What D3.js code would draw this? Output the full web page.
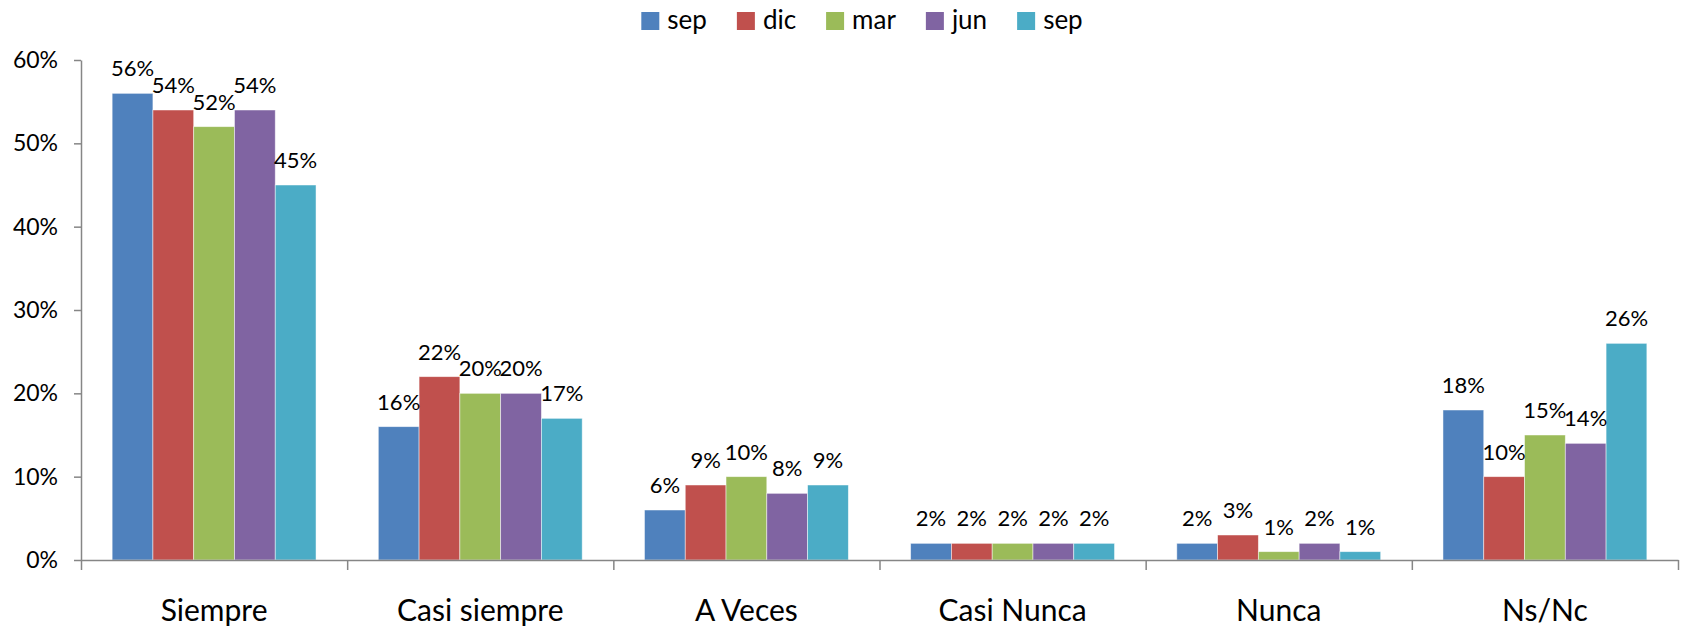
<!DOCTYPE html>
<html>
<head>
<meta charset="utf-8">
<script src="https://cdn.jsdelivr.net/npm/d3@7"></script>
<style>
  body { margin: 0; background: #fff; }
  svg { display: block; font-family: Lato, "Open Sans", sans-serif; }
</style>
</head>
<body>
<div id="chart"></div>
<script>
// data
var categories = ["Siempre", "Casi siempre", "A Veces", "Casi Nunca", "Nunca", "Ns/Nc"];
var seriesNames = ["sep", "dic", "mar", "jun", "sep"];
var sep1 = [0.56, 0.16, 0.06, 0.02, 0.02, 0.18];
var dic  = [0.54, 0.22, 0.09, 0.02, 0.03, 0.10];
var mar  = [0.52, 0.20, 0.10, 0.02, 0.01, 0.15];
var jun  = [0.54, 0.20, 0.08, 0.02, 0.02, 0.14];
var sep2 = [0.45, 0.17, 0.09, 0.02, 0.01, 0.26];
var yTicks = [0, 0.1, 0.2, 0.3, 0.4, 0.5, 0.6];
var colors = ["#4F81BD", "#C0504D", "#9BBB59", "#8064A2", "#4BACC6"];

var seriesValues = [sep1, dic, mar, jun, sep2];

var W = 1681, H = 628;
var plotLeft = 81, plotRight = 1678, plotTop = 60, plotBottom = 560;

var svg = d3.select("#chart")
  .append("svg")
  .attr("width", W)
  .attr("height", H);

// scales
var x0 = d3.scaleBand()
  .domain(categories)
  .range([plotLeft, plotRight])
  .padding(0);

var gap = x0.bandwidth() * 0.117;
var x1 = d3.scaleBand()
  .domain(d3.range(seriesNames.length))
  .range([gap, x0.bandwidth() - gap]);

var y = d3.scaleLinear()
  .domain([0, 0.6])
  .range([plotBottom, plotTop]);

// bars
var rows = [];
categories.forEach(function(c, i) {
  seriesValues.forEach(function(vals, s) {
    rows.push({cat: c, s: s, v: vals[i]});
  });
});

svg.selectAll(".bar")
  .data(rows)
  .enter()
  .append("rect")
  .attr("class", "bar")
  .attr("x", d => x0(d.cat) + x1(d.s))
  .attr("y", d => y(d.v))
  .attr("width", x1.bandwidth())
  .attr("height", d => y(0) - y(d.v))
  .attr("fill", d => colors[d.s])
  .attr("stroke", "#fff")
  .attr("stroke-opacity", 0.6)
  .attr("stroke-width", 0.8);

// value labels
svg.selectAll(".lbl")
  .data(rows)
  .enter()
  .append("text")
  .attr("class", "lbl")
  .attr("x", d => x0(d.cat) + x1(d.s) + x1.bandwidth() / 2)
  .attr("y", d => y(d.v) - 17)
  .attr("text-anchor", "middle")
  .style("font-size", "22px")
  .style("fill", "#000")
  .text(d => Math.round(d.v * 100) + "%");

// y axis
var yAxis = d3.axisLeft(y)
  .tickValues(yTicks)
  .tickFormat(d3.format(".0%"))
  .tickSize(7)
  .tickSizeOuter(0)
  .tickPadding(16);

var gy = svg.append("g")
  .attr("transform", "translate(" + plotLeft + ",0)")
  .call(yAxis);
gy.selectAll("path, line").attr("stroke", "#868686").attr("stroke-width", 1.5);
gy.selectAll("text").style("font-size", "23px").style("fill", "#000")
  .style("font-family", "Lato, sans-serif");

// x axis: boundary ticks
var xb = d3.scaleLinear().domain([0, categories.length]).range([plotLeft, plotRight]);
var gx = svg.append("g")
  .attr("transform", "translate(0," + plotBottom + ")")
  .call(d3.axisBottom(xb).ticks(categories.length).tickFormat("").tickSize(10).tickSizeOuter(0));
gx.selectAll("path, line").attr("stroke", "#868686").attr("stroke-width", 1.5);

// x axis: category labels
var gc = svg.append("g")
  .attr("transform", "translate(0," + plotBottom + ")")
  .call(d3.axisBottom(x0).tickSize(0).tickPadding(40));
gc.select(".domain").remove();
gc.selectAll("text").style("font-size", "30px").style("fill", "#000")
  .style("font-family", "Lato, sans-serif");

// legend
var legend = svg.append("g");
var lx = 0;
seriesNames.forEach(function(name, i) {
  var item = legend.append("g").attr("transform", "translate(" + lx + ",0)");
  item.append("rect")
    .attr("x", 0).attr("y", 12)
    .attr("width", 18).attr("height", 18)
    .attr("fill", colors[i]);
  var t = item.append("text")
    .attr("x", 26).attr("y", 29)
    .style("font-size", "26px")
    .text(name);
  lx += 26 + t.node().getComputedTextLength() + 30;
});
lx -= 30;
legend.attr("transform", "translate(" + (862 - lx / 2) + ",0)");
</script>
</body>
</html>
